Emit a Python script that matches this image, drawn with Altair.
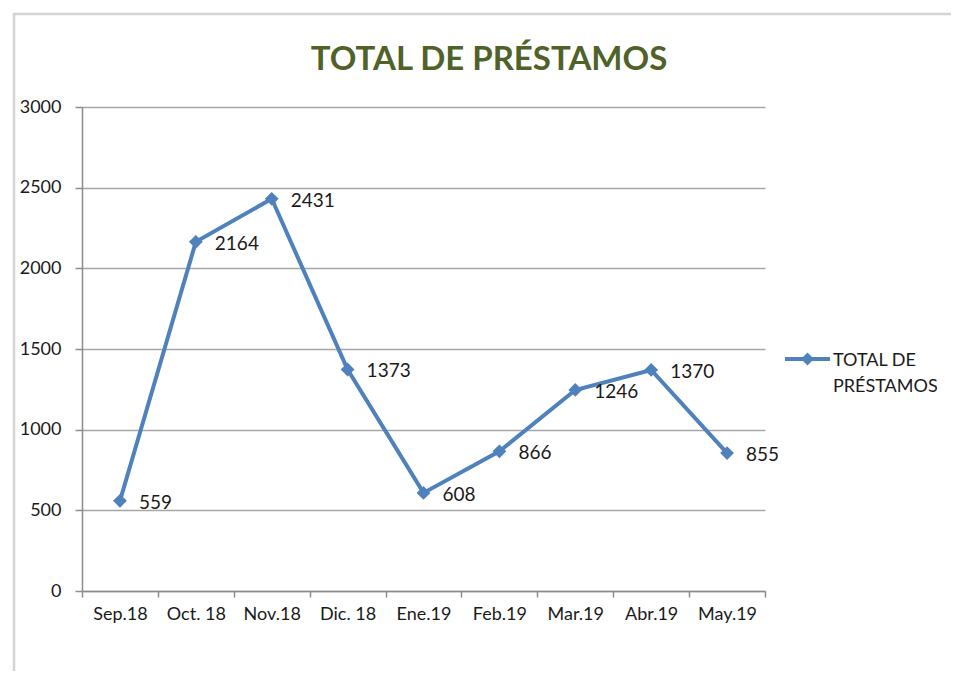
import altair as alt
import pandas as pd

meses = ["Sep.18", "Oct. 18", "Nov.18", "Dic. 18", "Ene.19", "Feb.19", "Mar.19", "Abr.19", "May.19"]
valores = [559, 2164, 2431, 1373, 608, 866, 1246, 1370, 855]
serie = "TOTAL DE PRÉSTAMOS"
y_ticks = [0, 500, 1000, 1500, 2000, 2500, 3000]

df = pd.DataFrame({"mes": meses, "valor": valores, "serie": [serie] * len(meses)})

BLUE = "#4f81bd"
FONT = "Lato"
TXT = "#1a1a1a"

x_enc = alt.X("mes:N", sort=meses,
              scale=alt.Scale(paddingInner=0, paddingOuter=0),
              axis=alt.Axis(title=None, labelAngle=0, tickBand="extent", grid=False,
                            domainColor="#8c8c8c", domainWidth=1.5, tickColor="#8c8c8c",
                            tickWidth=1.5, tickSize=6, labelPadding=8, labelFontSize=18,
                            labelColor=TXT, labelFont=FONT))
y_enc = alt.Y("valor:Q", scale=alt.Scale(domain=[0, 3000]),
              axis=alt.Axis(title=None, values=y_ticks, format="d", grid=True,
                            gridColor="#a6a6a6", gridWidth=1.5, domainColor="#8c8c8c",
                            domainWidth=1.5, tickColor="#8c8c8c", tickWidth=1.5, tickSize=7,
                            labelPadding=14, labelFontSize=18, labelColor=TXT,
                            labelFont=FONT))

base = alt.Chart(df).encode(x=x_enc, y=y_enc)

line = base.mark_line(strokeWidth=4, color=BLUE)
pts = base.mark_point(shape="diamond", filled=True, size=190, opacity=1, color=BLUE)
labels = base.mark_text(align="left", baseline="middle", dx=19, dy=2, fontSize=19,
                        font=FONT, color=TXT).encode(text="valor:Q")

one = pd.DataFrame({"serie": [serie]})
frame = alt.Chart(one).mark_rect(
    fill=None, stroke="#d4d4d4", strokeWidth=2.5).encode(
    x=alt.value(-68), x2=alt.value(900), y=alt.value(-93), y2=alt.value(700))

title = alt.Chart(one).mark_text(align="center", baseline="alphabetic", fontSize=33,
                                 font=FONT, fontWeight="bold", color="#4f6228").encode(
    x=alt.value(407), y=alt.value(-37), text=alt.value(serie))

leg_line = alt.Chart(one).mark_rule(color=BLUE, strokeWidth=4).encode(
    x=alt.value(703), x2=alt.value(748), y=alt.value(252))
leg_pt = alt.Chart(one).mark_point(shape="diamond", filled=True, size=170, opacity=1,
                                   color=BLUE).encode(x=alt.value(725.5), y=alt.value(252))
leg_txt = alt.Chart(one).mark_text(align="left", baseline="alphabetic", fontSize=18,
                                   font=FONT, color=TXT, lineBreak="|", lineHeight=26).encode(
    x=alt.value(751), y=alt.value(259), text=alt.value("TOTAL DE|PRÉSTAMOS"))

chart = alt.layer(frame, title, line, pts, labels, leg_line, leg_pt, leg_txt).properties(
    width=683, height=484,
    autosize=alt.AutoSizeParams(type="none"),
    padding={"left": 74, "top": 99, "right": 186, "bottom": 80},
).configure_view(stroke=None)

chart.save("out.html", embed_options={"renderer": "svg", "actions": False})
